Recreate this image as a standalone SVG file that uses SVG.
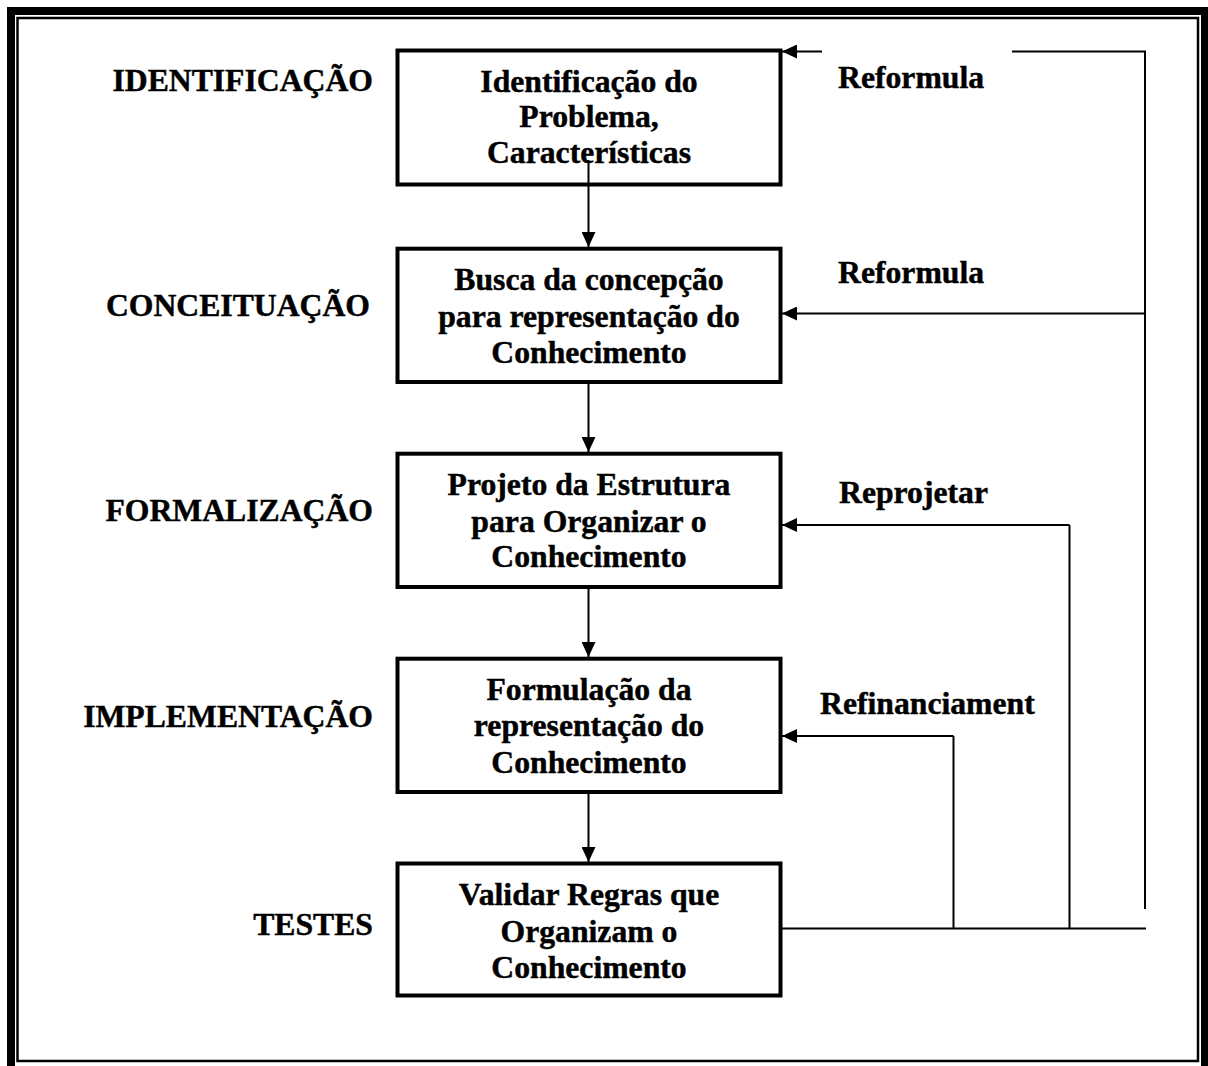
<svg xmlns="http://www.w3.org/2000/svg" width="1208" height="1066" viewBox="0 0 1208 1066">
  <style>
    .t { font-family: "Liberation Serif", "Times New Roman", serif; font-weight: bold; font-size: 31.7px; fill: #000; stroke: #000; stroke-width: 0.45px; }
    .c { text-anchor: middle; }
    .e { text-anchor: end; }
    .box { fill: #fff; stroke: #000; stroke-width: 4; }
    .ln { fill: none; stroke: #000; stroke-width: 2; }
  </style>
  <defs>
    <marker id="arr" viewBox="0 0 15 14" refX="15" refY="7" markerWidth="15" markerHeight="14" markerUnits="userSpaceOnUse" orient="auto">
      <path d="M0,0 L15,7 L0,14 Z" fill="#000"/>
    </marker>
  </defs>

  <rect width="1208" height="1066" fill="#fff"/>

  <!-- page frame: thick outer band, thin inner line -->
  <g id="frame">
    <path d="M11,1070 V11 H1205 V1070" fill="none" stroke="#000" stroke-width="8"/>
    <rect x="17.5" y="18" width="1180.5" height="1043" fill="none" stroke="#000" stroke-width="2.5"/>
  </g>

  <!-- connectors -->
  <g id="connectors">
    <!-- downward flow -->
    <line class="ln" x1="588.5" y1="160" x2="588.5" y2="247" marker-end="url(#arr)"/>
    <line class="ln" x1="588.5" y1="384" x2="588.5" y2="452" marker-end="url(#arr)"/>
    <line class="ln" x1="588.5" y1="589" x2="588.5" y2="657" marker-end="url(#arr)"/>
    <line class="ln" x1="588.5" y1="794" x2="588.5" y2="862" marker-end="url(#arr)"/>

    <!-- feedback bus from the test stage -->
    <line class="ln" x1="782" y1="928.5" x2="1146" y2="928.5"/>
    <line class="ln" x1="953.5" y1="928.5" x2="953.5" y2="736"/>
    <line class="ln" x1="953.5" y1="736" x2="782" y2="736" marker-end="url(#arr)"/>
    <line class="ln" x1="1069.5" y1="928.5" x2="1069.5" y2="525"/>
    <line class="ln" x1="1069.5" y1="525" x2="782" y2="525" marker-end="url(#arr)"/>
    <line class="ln" x1="1145" y1="909" x2="1145" y2="51.5"/>
    <line class="ln" x1="1145" y1="313.5" x2="782" y2="313.5" marker-end="url(#arr)"/>
    <line class="ln" x1="1146" y1="51.5" x2="1012" y2="51.5"/>
    <line class="ln" x1="822" y1="51.5" x2="782" y2="51.5" marker-end="url(#arr)"/>
  </g>

  <!-- stage labels -->
  <g id="stage-labels">
    <text class="t e" x="373" y="91">IDENTIFICAÇÃO</text>
    <text class="t e" x="370" y="316">CONCEITUAÇÃO</text>
    <text class="t e" x="373" y="521">FORMALIZAÇÃO</text>
    <text class="t e" x="373" y="727">IMPLEMENTAÇÃO</text>
    <text class="t e" x="373" y="935">TESTES</text>
  </g>

  <!-- feedback labels -->
  <g id="feedback-labels">
    <text class="t" x="838" y="88">Reformula</text>
    <text class="t" x="838" y="283">Reformula</text>
    <text class="t" x="839" y="503">Reprojetar</text>
    <text class="t" x="820" y="714">Refinanciament</text>
  </g>

  <g id="node-identificacao">
    <rect class="box" x="397.5" y="50.5" width="383" height="134"/>
    <text class="t c" x="589" y="91.5">Identificação do</text>
    <text class="t c" x="589" y="127">Problema,</text>
    <text class="t c" x="589" y="163">Características</text>
  </g>
  <line class="ln" x1="588.5" y1="160" x2="588.5" y2="186"/>

  <g id="node-conceituacao">
    <rect class="box" x="397.5" y="248.7" width="383" height="133.3"/>
    <text class="t c" x="589" y="290">Busca da concepção</text>
    <text class="t c" x="589" y="326.5">para representação do</text>
    <text class="t c" x="589" y="363">Conhecimento</text>
  </g>

  <g id="node-formalizacao">
    <rect class="box" x="397.5" y="453.7" width="383" height="133.3"/>
    <text class="t c" x="589" y="495">Projeto da Estrutura</text>
    <text class="t c" x="589" y="531.5">para Organizar o</text>
    <text class="t c" x="589" y="567">Conhecimento</text>
  </g>

  <g id="node-implementacao">
    <rect class="box" x="397.5" y="658.7" width="383" height="133.3"/>
    <text class="t c" x="589" y="699.5">Formulação da</text>
    <text class="t c" x="589" y="736">representação do</text>
    <text class="t c" x="589" y="772.5">Conhecimento</text>
  </g>

  <g id="node-testes">
    <rect class="box" x="397.5" y="863.5" width="383" height="132"/>
    <text class="t c" x="589" y="905">Validar Regras que</text>
    <text class="t c" x="589" y="941.5">Organizam o</text>
    <text class="t c" x="589" y="978">Conhecimento</text>
  </g>
</svg>
